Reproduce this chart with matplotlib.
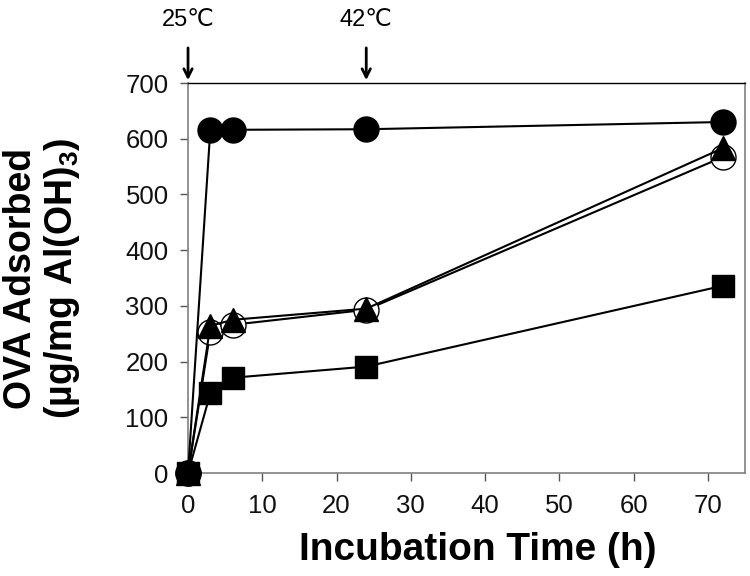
import matplotlib

matplotlib.use("Agg")
from matplotlib import pyplot as plt

plt.rcParams["font.family"] = ["Liberation Sans", "DejaVu Sans"]
plt.rcParams["mathtext.fontset"] = "custom"
plt.rcParams["mathtext.rm"] = "Liberation Sans:bold"

# incubation time (h)
time_h = [0, 3, 6, 24, 72]
# OVA adsorbed (ug/mg Al(OH)3)
filled_circle = [0, 616, 616, 617, 630]
filled_triangle = [0, 264, 275, 295, 583]
open_circle = [0, 253, 266, 293, 567]
filled_square = [0, 143, 171, 191, 336]

temp_marks = [0, 24]
temp_labels = ["25℃", "42℃"]

fig = plt.figure(figsize=(7.5, 5.76), dpi=100)
ax = fig.add_axes([0.2507, 0.1788, 0.7426, 0.6771])

ax.plot(time_h, filled_square, "-s", color="black", lw=1.5, ms=16,
        mfc="black", clip_on=False, zorder=3)
ax.plot(time_h, open_circle, "-o", color="black", lw=1.5, ms=18,
        mfc="white", clip_on=False, zorder=3)
ax.plot(time_h, filled_triangle, "-^", color="black", lw=1.5, ms=17,
        mfc="black", clip_on=False, zorder=4)
ax.plot(time_h, filled_circle, "-o", color="black", lw=1.5, ms=18,
        mfc="black", clip_on=False, zorder=5)

ax.set_xlim(0, 75)
ax.set_ylim(0, 700)
ax.set_xticks(range(0, 71, 10))
ax.set_yticks(range(0, 701, 100))
ax.tick_params(direction="out", length=6, width=1, labelsize=18.5,
               color="#555555", labelcolor="#111111", pad=8)
ax.tick_params(axis="x", pad=9)

for side in ["left", "bottom", "right"]:
    ax.spines[side].set_color("#808080")
    ax.spines[side].set_linewidth(1.2)
ax.spines["top"].set_color("black")
ax.spines["top"].set_linewidth(1.0)

ax.set_xlabel("Incubation Time (h)", fontsize=28, fontweight="bold")
ax.xaxis.set_label_coords(0.52, -0.15)
ax.set_ylabel("OVA Adsorbed\n(µg/mg Al(OH)$_\\mathrm{3}$)", fontsize=27,
              fontweight="bold", linespacing=1.12)
ax.yaxis.set_label_coords(-0.19, 0.5)

for t, lab in zip(temp_marks, temp_labels):
    ax.annotate("", xy=(t, 700), xytext=(t, 700 + 68),
                arrowprops=dict(arrowstyle="->,head_length=0.6,head_width=0.3",
                                color="black", lw=2),
                annotation_clip=False)
    ax.text(t, 700 + 113, lab, ha="center", va="center", fontsize=17)

fig.savefig("out.png", dpi=100)
plt.close(fig)
